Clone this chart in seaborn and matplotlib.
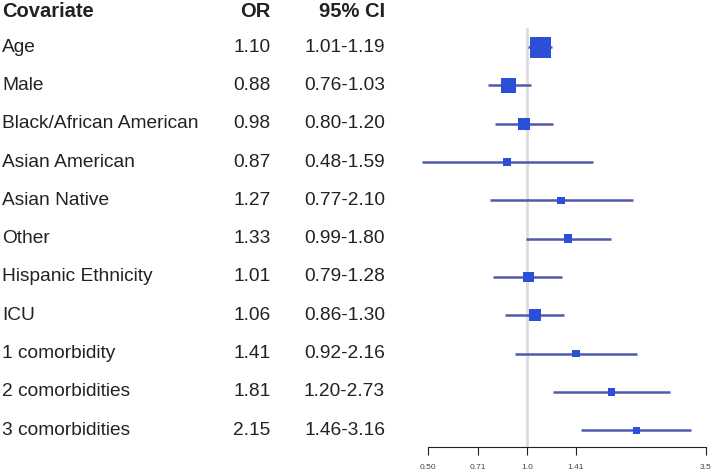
import numpy as np
import pandas as pd
import seaborn as sns
import matplotlib.pyplot as plt
import matplotlib.transforms as mtransforms

# data
covariates = ["Age", "Male", "Black/African American", "Asian American",
              "Asian Native", "Other", "Hispanic Ethnicity", "ICU",
              "1 comorbidity", "2 comorbidities", "3 comorbidities"]
odds = [1.10, 0.88, 0.98, 0.87, 1.27, 1.33, 1.01, 1.06, 1.41, 1.81, 2.15]
ci_low = [1.01, 0.76, 0.80, 0.48, 0.77, 0.99, 0.79, 0.86, 0.92, 1.20, 1.46]
ci_high = [1.19, 1.03, 1.20, 1.59, 2.10, 1.80, 1.28, 1.30, 2.16, 2.73, 3.16]
# box weight (marker area)
weights = [228, 118, 75, 28, 28, 37, 57, 75, 28, 28, 26]
xticks = [0.50, 0.71, 1.0, 1.41, 3.5]
xticklabels = ["0.50", "0.71", "1.0", "1.41", "3.5"]

df = pd.DataFrame({"cov": covariates, "OR": odds, "lo": ci_low, "hi": ci_high,
                   "w": weights})
df["row"] = np.arange(len(df))

sns.set_style("white")
plt.rcParams['font.family'] = ['Liberation Sans', 'DejaVu Sans']

fig = plt.figure(figsize=(7.14, 4.72), dpi=100)
ax = fig.add_axes([409.7/714, 25/472, (713.9-409.7)/714, (447-28)/472])

ax.set_xscale("log")
ax.set_xlim(0.44, 3.7)
ax.set_ylim(10.44, -0.5)

ax.axvline(1.0, color="#dddddd", lw=2, zorder=0)
ax.hlines(df["row"], df["lo"], df["hi"], color="#5158ae", lw=1.8, zorder=1)
sns.scatterplot(data=df, x="OR", y="row", size="w",
                sizes=(min(weights), max(weights)), marker="s",
                color="#2c4fd8", linewidth=0, legend=False, ax=ax, zorder=2)

for s in ["top", "left", "right"]:
    ax.spines[s].set_visible(False)
ax.spines["bottom"].set_bounds(0.5, 3.5)
ax.spines["bottom"].set_color("#222222")
ax.set_xticks(xticks)
ax.set_xticklabels(xticklabels)
ax.minorticks_off()
ax.tick_params(axis="x", bottom=True, length=6, color="#222222",
               labelsize=6, pad=6, labelcolor="#444444")
ax.set_yticks([])
ax.set_xlabel("")
ax.set_ylabel("")

# table text
tr = mtransforms.blended_transform_factory(fig.transFigure, ax.transData)
hy = -0.93
fs = 13.8
ax.text(2/714, hy, "Covariate", transform=tr, ha="left", va="center",
        fontsize=14.5, fontweight="bold", color="#222222")
ax.text(270.5/714, hy, "OR", transform=tr, ha="right", va="center",
        fontsize=14.5, fontweight="bold", color="#222222")
ax.text(385/714, hy, "95% CI", transform=tr, ha="right", va="center",
        fontsize=14.5, fontweight="bold", color="#222222")
for i, r in df.iterrows():
    ax.text(2/714, r["row"], r["cov"], transform=tr, ha="left", va="center",
            fontsize=fs, color="#222222")
    ax.text(270.5/714, r["row"], f"{r['OR']:.2f}", transform=tr, ha="right",
            va="center", fontsize=fs, color="#222222")
    ax.text(385/714, r["row"], f"{r['lo']:.2f}-{r['hi']:.2f}", transform=tr,
            ha="right", va="center", fontsize=fs, color="#222222")

fig.savefig("out.png", dpi=100)
